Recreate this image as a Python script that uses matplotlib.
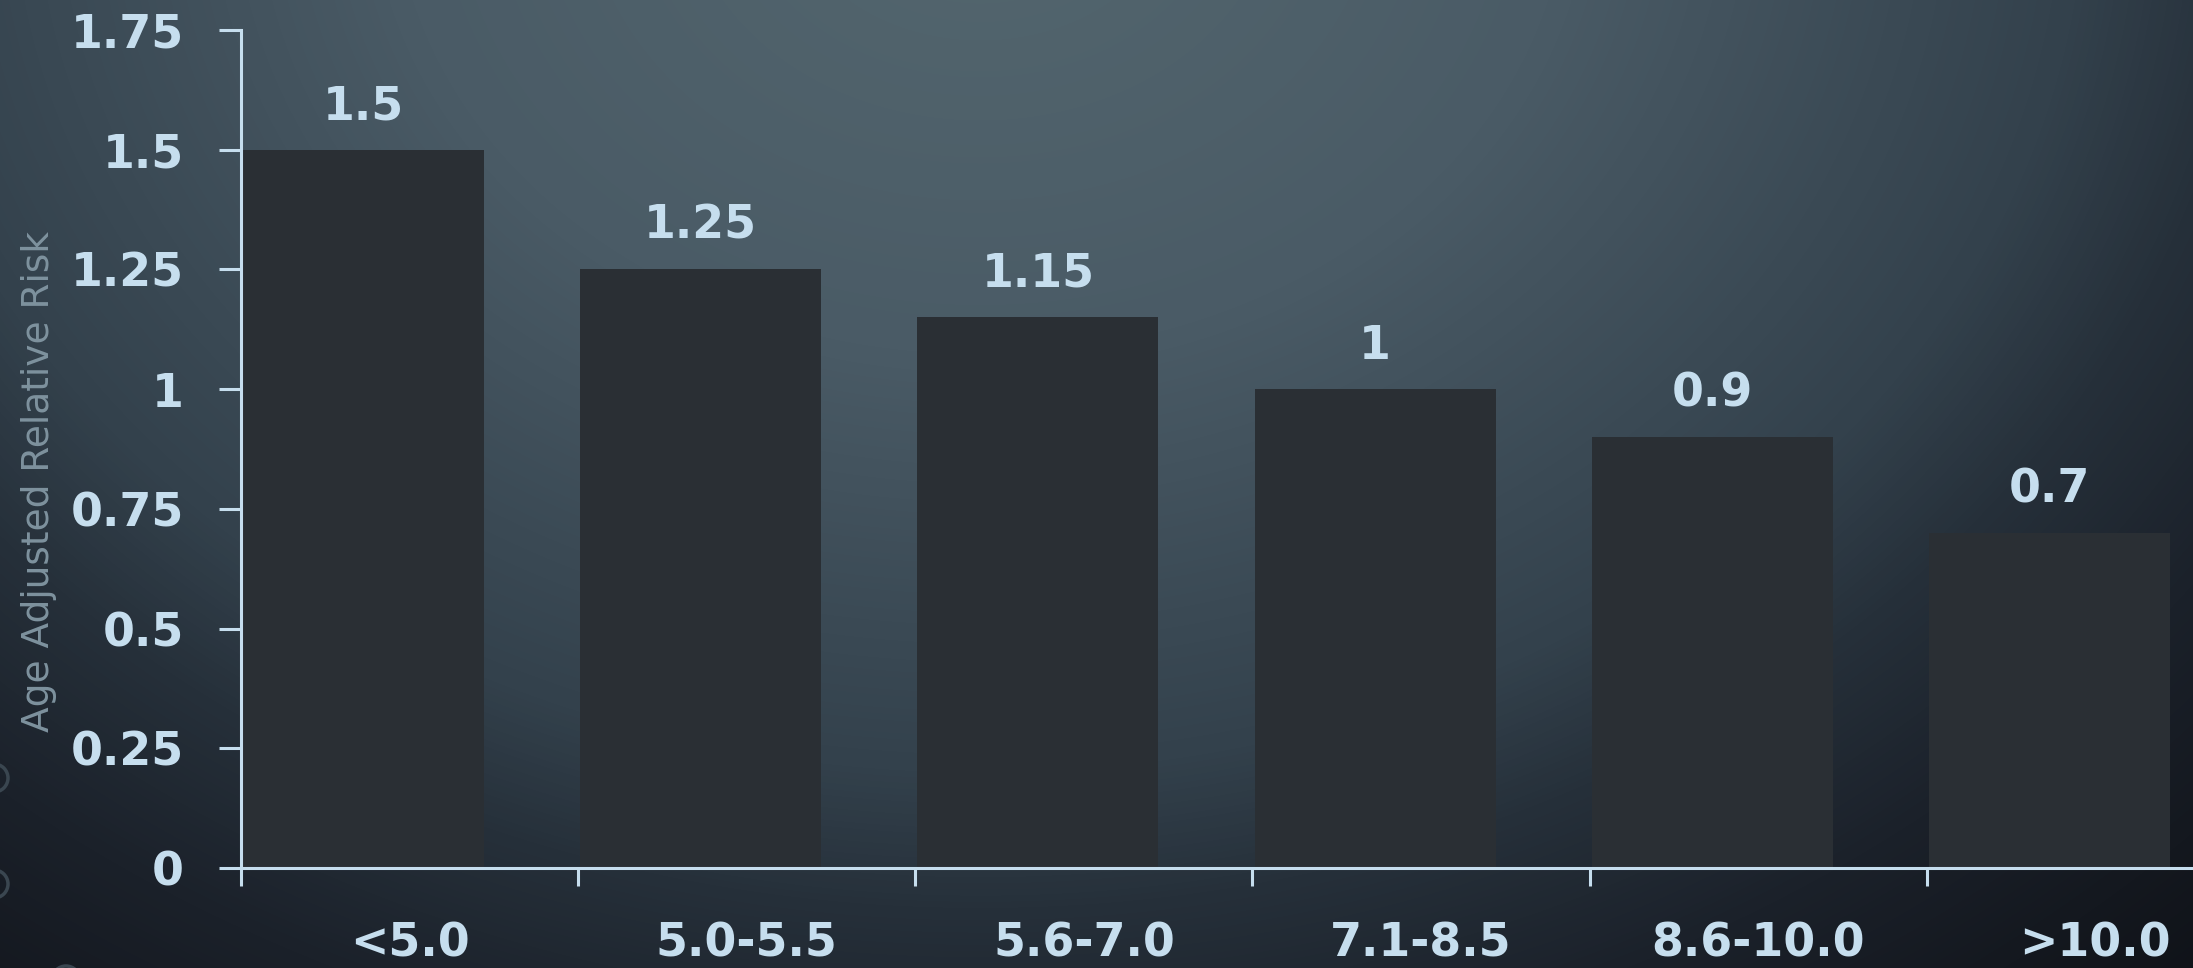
import numpy as np
import matplotlib
matplotlib.use("Agg")
import matplotlib.pyplot as plt
from matplotlib.colors import LinearSegmentedColormap
from matplotlib.patches import Circle

# ---- data ----
categories = ["<5.0", "5.0-5.5", "5.6-7.0", "7.1-8.5", "8.6-10.0", ">10.0"]
risk_values = [1.5, 1.25, 1.15, 1.0, 0.9, 0.7]
value_labels = ["1.5", "1.25", "1.15", "1", "0.9", "0.7"]
y_ticks = [0, 0.25, 0.5, 0.75, 1.0, 1.25, 1.5, 1.75]
y_tick_labels = ["0", "0.25", "0.5", "0.75", "1", "1.25", "1.5", "1.75"]
y_label = "Age Adjusted Relative Risk"

W, H, DPI = 2193, 968, 100
fig = plt.figure(figsize=(W / DPI, H / DPI), dpi=DPI)

# ---- background gradient ----
bg = fig.add_axes([0, 0, 1, 1], zorder=0)
bg.set_axis_off()
yy, xx = np.mgrid[0:H, 0:W]
cx, cy, sx, sy = 980.0, -120.0, 1300.0, 1050.0
r = np.sqrt(((xx - cx) / sx) ** 2 + ((yy - cy) / sy) ** 2)
stops = [(0.0, "#54676f"), (0.45 / 1.5, "#4a5b66"), (0.85 / 1.5, "#33414c"),
         (0.98 / 1.5, "#26303a"), (1.15 / 1.5, "#1b212a"), (1.3 / 1.5, "#14181f"),
         (1.0, "#0c0e13")]
cmap = LinearSegmentedColormap.from_list("bg", stops)
bg.imshow(np.clip(r / 1.5, 0, 1), cmap=cmap, vmin=0, vmax=1, aspect="auto",
          extent=[0, W, H, 0], interpolation="bilinear")
bg.set_xlim(0, W)
bg.set_ylim(H, 0)
# decorative partial circles at left edge
for (ccx, ccy, rad) in [(-6, 778, 14), (-6, 884, 14), (66, 980, 14)]:
    bg.add_patch(Circle((ccx, ccy), rad, fill=False, ec="#3a4650", lw=2.5))

# ---- main axes ----
axis_col = "#c6deee"
num_font = "DejaVu Sans"
x_left, x_zero_y, x_end, y_top = 241, 868, 2264, 30
ax = fig.add_axes([x_left / W, (H - x_zero_y) / H, (x_end - x_left) / W,
                   (x_zero_y - y_top) / H], zorder=1)
ax.patch.set_alpha(0)

n = len(categories)
x_pos = np.arange(n)
ax.bar(x_pos + 0.006, risk_values, width=0.715, align="edge",
       color="#2a2f34", edgecolor="none", zorder=2)

for i, (v, lab) in enumerate(zip(risk_values, value_labels)):
    ax.annotate(lab, (i + 0.006 + 0.715 / 2, v), xytext=(0, 22),
                textcoords="offset points", ha="center", va="baseline",
                fontsize=33, fontweight="bold", color=axis_col,
                family=num_font)

ax.set_xlim(0, n)
ax.set_ylim(0, 1.75)

ax.spines["top"].set_visible(False)
ax.spines["right"].set_visible(False)
for s in ("left", "bottom"):
    ax.spines[s].set_color(axis_col)
    ax.spines[s].set_linewidth(2.2)
    ax.spines[s].set_zorder(3)

ax.set_yticks(y_ticks)
ax.set_yticklabels(y_tick_labels)
ax.tick_params(axis="y", direction="out", length=16, width=2.2, color=axis_col,
               pad=25, labelsize=33, labelcolor=axis_col)
ax.set_xticks(np.arange(n + 1))
ax.set_xticklabels([""] * (n + 1))
ax.set_xticks(x_pos + 0.5, minor=True)
ax.set_xticklabels(categories, minor=True)
ax.tick_params(axis="x", which="major", direction="out", length=13, width=2.2,
               color=axis_col)
ax.tick_params(axis="x", which="minor", length=0, pad=38.5, labelsize=33,
               labelcolor=axis_col)
for t in ax.get_yticklabels() + ax.get_xticklabels(minor=True):
    t.set_fontweight("bold")
    t.set_family(num_font)

fig.text(39 / W, 1 - 481 / H, y_label, rotation=90, ha="center", va="center",
         fontsize=27, color="#7e929e", family="DejaVu Sans")

fig.savefig("out.png", dpi=DPI)
